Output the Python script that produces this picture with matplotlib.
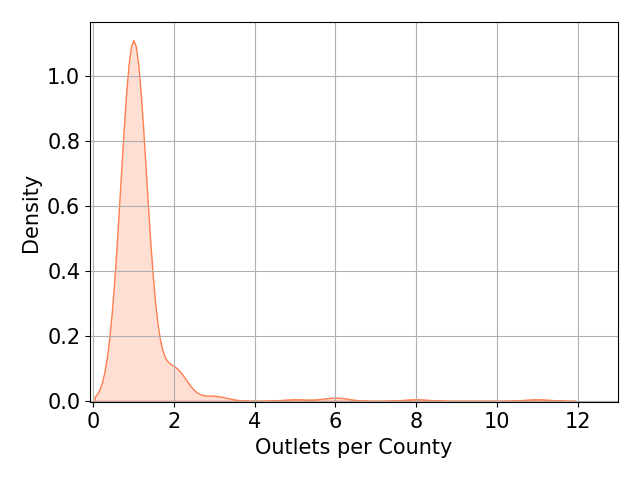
import matplotlib
matplotlib.use("Agg")
import matplotlib.pyplot as plt
import numpy as np
import seaborn as sns

# outlets per county (value -> number of counties)
outlet_values = [1, 2, 3, 5, 6, 8, 11]
county_counts = [224, 20, 3, 1, 2, 1, 1]

outlets = np.repeat(outlet_values, county_counts)

plt.rcParams['font.size'] = 15

fig, ax = plt.subplots(figsize=(6.4, 4.8), dpi=100)
sns.kdeplot(x=outlets, fill=True, color='coral', ax=ax)

ax.set_xlim(-0.075, 13)
ax.set_ylim(bottom=-0.005)
ax.set_xlabel('Outlets per County')
ax.set_ylabel('Density')
ax.grid(True)

plt.subplots_adjust(left=0.1406, right=0.9656, top=0.954, bottom=0.1615)
plt.savefig("out.png")
